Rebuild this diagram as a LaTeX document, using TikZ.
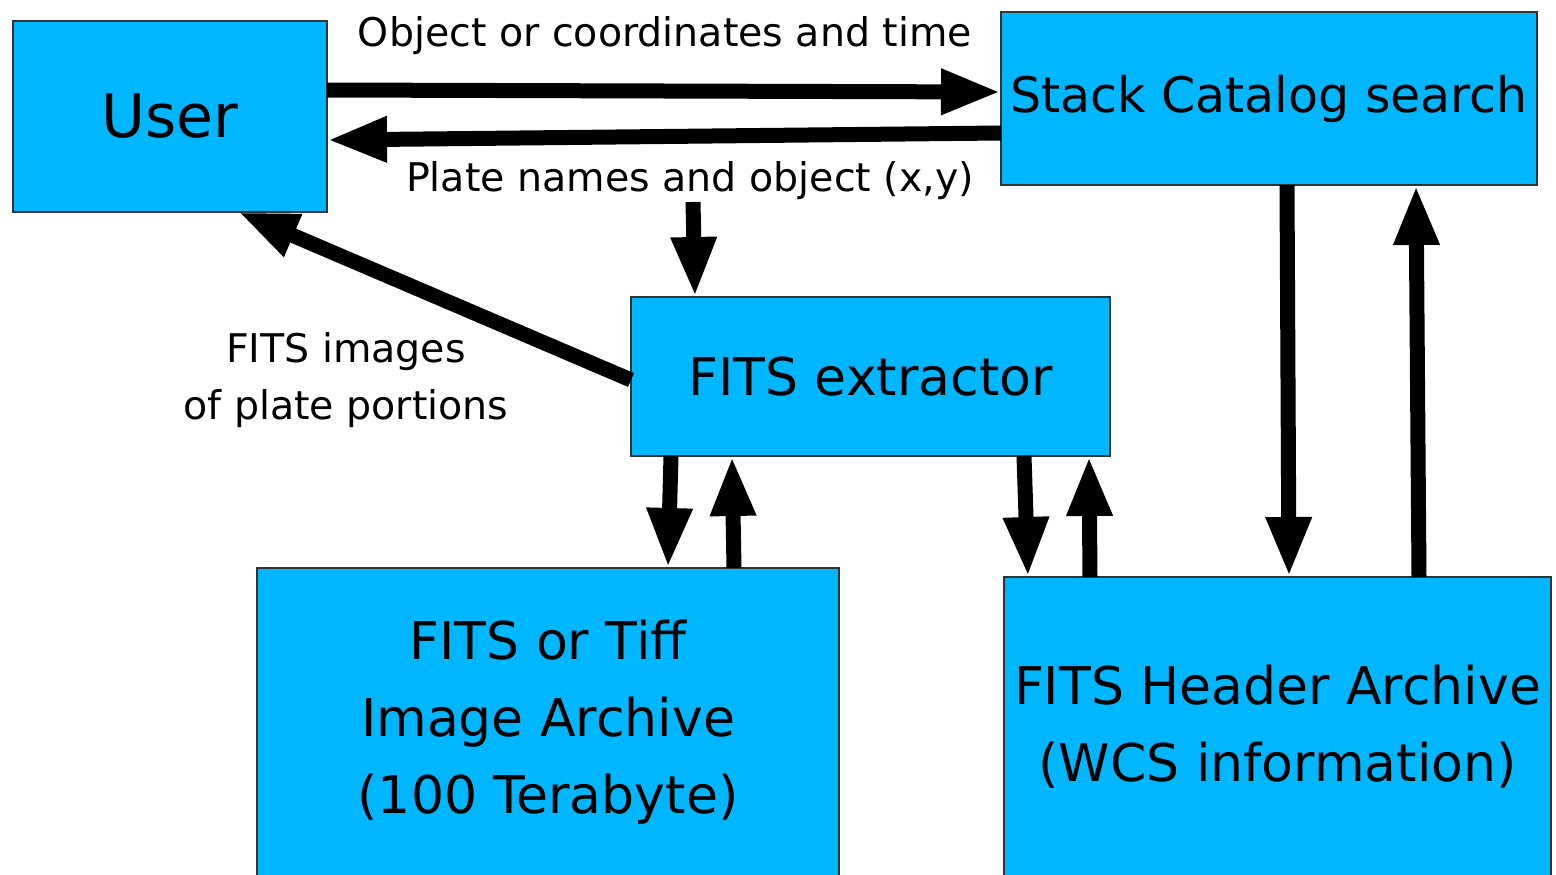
\documentclass[tikz,border=0pt]{standalone}
\usepackage{fontspec}
\setmainfont{DejaVu Sans}
\usetikzlibrary{arrows.meta}
\definecolor{boxblue}{RGB}{0,183,255}
\begin{document}
\begin{tikzpicture}[x=1pt,y=-1pt,
  box/.style={draw=black!80, line width=1.2pt, fill=boxblue, inner sep=0pt, outer sep=0pt,
    anchor=north west, align=center, font=\fontsize{52}{77}\selectfont},
  flow/.style={line width=15pt, -{Triangle[length=60pt,width=42pt]}},
  lbl/.style={font=\fontsize{39.5}{57}\selectfont, align=center}]
\useasboundingbox (0,0) rectangle (1556,875);
\node[box, minimum width=314pt, minimum height=191pt, font=\fontsize{60}{70}\selectfont] (user) at (13,21) {User};
\node[box, minimum width=536pt, minimum height=173pt, font=\fontsize{49}{70}\selectfont] (stack) at (1001,12) {Stack Catalog search};
\node[box, minimum width=479pt, minimum height=159pt] (ext) at (631,297) {FITS extractor};
\node[box, minimum width=582pt, minimum height=308pt] (img) at (257,568) {FITS or Tiff\\Image Archive\\(100 Terabyte)};
\node[box, minimum width=547pt, minimum height=299pt] (hdr) at (1004,577) {FITS Header Archive\\(WCS information)};

\node[lbl] (t1) at (665,36) {Object or coordinates and time};
\node[lbl] (t2) at (690,181) {Plate names and object (x,y)};
\node[lbl] (t3) at (346,380) {FITS images\\of plate portions};

\coordinate (pn) at (693,202);
\draw[flow] ([yshift=26.5pt]user.east) -- ([yshift=6.5pt]stack.west);
\draw[flow] ([yshift=-34.5pt]stack.west) -- ([yshift=-23.5pt]user.east);
\draw[flow] (pn) -- ([xshift=-175.5pt]ext.north);
\draw[flow] ([yshift=-3.5pt]ext.west) -- ([xshift=68pt]user.south);
\draw[flow] ([xshift=-199.5pt]ext.south) -- ([xshift=120pt]img.north);
\draw[flow] ([xshift=186pt]img.north) -- ([xshift=-138.5pt]ext.south);
\draw[flow] ([xshift=153.5pt]ext.south) -- ([xshift=-249.5pt]hdr.north);
\draw[flow] ([xshift=-187.5pt]hdr.north) -- ([xshift=218.5pt]ext.south);
\draw[flow] ([xshift=18pt]stack.south) -- ([xshift=11.5pt]hdr.north);
\draw[flow] ([xshift=141.5pt]hdr.north) -- ([xshift=147pt]stack.south);
\end{tikzpicture}
\end{document}
